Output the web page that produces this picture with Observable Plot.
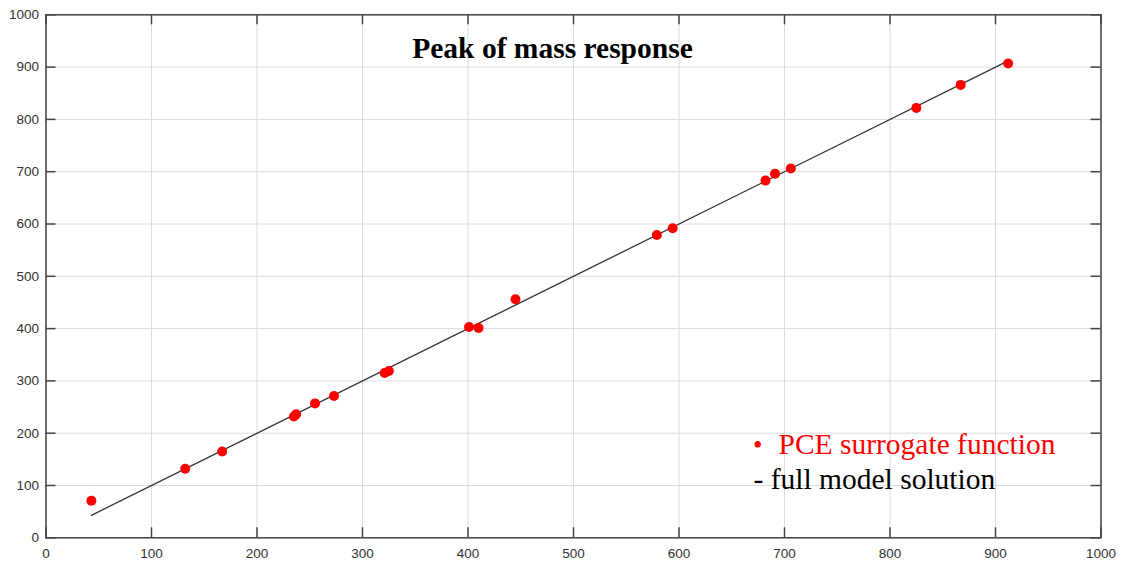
<!DOCTYPE html>
<html>
<head>
<meta charset="utf-8">
<script src="https://cdn.jsdelivr.net/npm/d3@7"></script>
<script src="https://cdn.jsdelivr.net/npm/@observablehq/plot@0.6"></script>
<style>
  html, body { margin: 0; padding: 0; background: #fff; }
  #chart svg { display: block; }
</style>
</head>
<body>
<div id="chart"></div>
<script>
// PCE surrogate function (red dots)
const pceX = [43, 132, 167, 235, 237, 255, 273, 321, 325, 401, 410, 445, 579, 594, 682, 691, 706, 825, 867, 912];
const pceY = [71, 132, 165, 232, 236, 257, 271, 315, 319, 403, 401, 456, 579, 592, 683, 696, 706, 822, 866, 907];
// full model solution (line)
const fullX = [43, 912];
const fullY = [43, 912];
// ticks
const ticks = [0, 100, 200, 300, 400, 500, 600, 700, 800, 900, 1000];
const titleText = "Peak of mass response";
const legendLabels = ["PCE surrogate function", "- full model solution"];

const pce = pceX.map((x, i) => ({x, y: pceY[i]}));
const full = fullX.map((x, i) => ({x, y: fullY[i]}));

const W = 1123, H = 563;
const mL = 45.5, mR = 22.5, mT = 14.3, mB = 25.7;
const innerW = W - mL - mR, innerH = H - mT - mB;
const tickLen = 10;

const axisColor = "#444";
const labelFont = {fontFamily: "'Liberation Sans', Arial, sans-serif", fontSize: 13.5, fill: "#333"};
const serif = "'Liberation Serif', 'Times New Roman', serif";
const tickStyle = {stroke: axisColor, strokeWidth: 1.5};

const plot = Plot.plot({
  width: W,
  height: H,
  marginLeft: mL,
  marginRight: mR,
  marginTop: mT,
  marginBottom: mB,
  style: {background: "#fff", color: "#333"},
  x: {domain: [0, 1000], ticks: ticks},
  y: {domain: [0, 1000], ticks: ticks},
  marks: [
    Plot.gridX(ticks, {stroke: "#dcdcdc", strokeOpacity: 1}),
    Plot.gridY(ticks, {stroke: "#dcdcdc", strokeOpacity: 1}),
    Plot.axisX(ticks, {anchor: "bottom", tickSize: 0, tickPadding: 11, tickFormat: d3.format("d"), ...labelFont, label: null}),
    Plot.axisY(ticks, {anchor: "left", tickSize: 0, tickPadding: 7, tickFormat: d3.format("d"), ...labelFont, label: null}),
    // inward tick marks on all four sides
    Plot.ruleX(ticks, {insetTop: innerH - tickLen, ...tickStyle}),
    Plot.ruleX(ticks, {insetBottom: innerH - tickLen, ...tickStyle}),
    Plot.ruleY(ticks, {insetRight: innerW - tickLen, ...tickStyle}),
    Plot.ruleY(ticks, {insetLeft: innerW - tickLen, ...tickStyle}),
    Plot.frame({stroke: axisColor, strokeWidth: 1.5}),
    Plot.line(full, {x: "x", y: "y", stroke: "#333", strokeWidth: 1.3}),
    Plot.dot(pce, {x: "x", y: "y", r: 5, fill: "#ff0000", stroke: "none"}),
    Plot.text([titleText], {frameAnchor: "top", dx: -21, dy: 43, lineAnchor: "bottom",
      fontFamily: serif, fontWeight: "bold", fontSize: 29.5, fill: "#000"}),
    Plot.text(["•"], {frameAnchor: "top-left", dx: 707, dy: 438.7, lineAnchor: "bottom", textAnchor: "start",
      fontFamily: serif, fontSize: 27, fill: "#ff0000"}),
    Plot.text([legendLabels[0]], {frameAnchor: "top-left", dx: 732.5, dy: 438.7, lineAnchor: "bottom", textAnchor: "start",
      fontFamily: serif, fontSize: 29.5, fill: "#ff0000"}),
    Plot.text([legendLabels[1]], {frameAnchor: "top-left", dx: 707.5, dy: 473.7, lineAnchor: "bottom", textAnchor: "start",
      fontFamily: serif, fontSize: 29.5, fill: "#000"})
  ]
});
document.getElementById("chart").appendChild(plot);
</script>
</body>
</html>
